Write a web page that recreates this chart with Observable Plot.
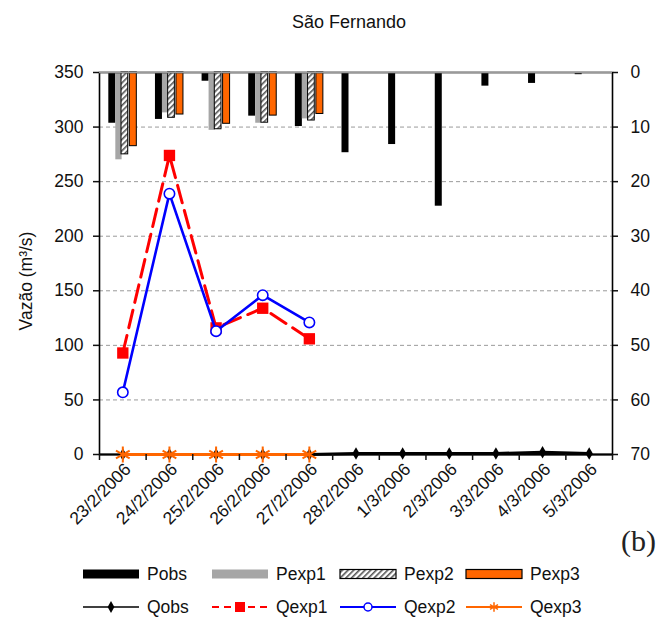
<!DOCTYPE html>
<html><head><meta charset="utf-8">
<script src="https://cdn.jsdelivr.net/npm/d3@7"></script>
<script src="https://cdn.jsdelivr.net/npm/@observablehq/plot@0.6"></script>
<style>
body{margin:0;background:#fff;font-family:"Liberation Sans",Arial,sans-serif;}
#wrap{position:relative;width:663px;height:621px;overflow:hidden;}
#title{position:absolute;top:12px;left:0;width:698px;text-align:center;font-size:18px;color:#111;}
#ylab{position:absolute;left:26px;top:281px;transform:translate(-50%,-50%) rotate(-90deg);font-size:17.5px;white-space:nowrap;color:#111;}
#tag{position:absolute;left:621px;top:524px;font-family:"Liberation Serif","DejaVu Serif",serif;font-size:30px;color:#222;}
#chart{position:absolute;left:0;top:0;}
#legend{position:absolute;left:0;top:555px;}
</style></head><body>
<div id="wrap">
  <div id="chart"></div>
  <div id="title">São Fernando</div>
  <div id="ylab">Vazão (m³/s)</div>
  <div id="tag">(b)</div>
  <div id="legend"></div>
</div>
<script>
// ---- data ----
const dates = ["23/2/2006","24/2/2006","25/2/2006","26/2/2006","27/2/2006","28/2/2006","1/3/2006","2/3/2006","3/3/2006","4/3/2006","5/3/2006"];
const Pobs  = [9.3, 8.6, 1.6, 8.0, 9.9, 14.7, 13.2, 24.5, 2.5, 2.0, 0.4];
const Pexp1 = [16.0, 7.4, 10.6, 9.3, 8.5];
const Pexp2 = [15.0, 8.3, 10.4, 9.2, 8.8];
const Pexp3 = [13.5, 7.7, 9.4, 7.9, 7.6];
const Qobs  = [0, 0, 0, 0, 0, 1, 1, 1, 1, 2, 1];
const Qexp1 = [93, 274, 116, 134, 106];
const Qexp2 = [57, 239, 113, 146, 121];
const Qexp3 = [0, 0, 0, 0, 0];
const qTicks = [0, 50, 100, 150, 200, 250, 300, 350];
const pTicks = [0, 10, 20, 30, 40, 50, 60, 70];
const pSeries = ["Pobs", "Pexp1", "Pexp2", "Pexp3"];
const qSeries = ["Qobs", "Qexp1", "Qexp2", "Qexp3"];

// ---- layout / style ----
const W = 663, H = 621;
const mL = 99, mR = 51, mT = 72, mB = 167;
const qMax = 350, pMax = 70;
const pToY = p => qMax - p * (qMax / pMax);     // right (inverted) axis mapped onto flow scale
const bw = (W - mL - mR) / dates.length;
const barPos = {Pobs: [-14, -7], Pexp1: [-7, -0.7], Pexp2: [-1.3, 5.4], Pexp3: [7, 14]};
const barStyle = {
  Pobs:  {fill: "#000"},
  Pexp1: {fill: "#a6a6a6"},
  Pexp2: {fill: "url(#hatch)", stroke: "#000", strokeWidth: 1},
  Pexp3: {fill: "#ff6600", stroke: "#000", strokeWidth: 1}
};
const pData = {Pobs, Pexp1, Pexp2, Pexp3};
const rows = s => pData[s].map((p, i) => ({date: dates[i], p}));
const qRows = arr => arr.map((q, i) => ({date: dates[i], q}));

const barMarks = pSeries.map(s => Plot.barY(rows(s), {
  x: "date", y1: () => qMax, y2: d => pToY(d.p),
  insetLeft: bw / 2 + barPos[s][0], insetRight: bw / 2 - barPos[s][1],
  ...barStyle[s]
}));

const fs = 17.5;
const plot = Plot.plot({
  width: W, height: H,
  marginLeft: mL, marginRight: mR, marginTop: mT, marginBottom: mB,
  style: {fontFamily: "'Liberation Sans', Arial, sans-serif", fontSize: fs + "px", color: "#111", background: "transparent"},
  x: {type: "band", domain: dates, paddingInner: 0, paddingOuter: 0, round: false, axis: null},
  y: {domain: [0, qMax], axis: null},
  marks: [
    Plot.ruleY(qTicks.slice(1, -1), {stroke: "#9a9a9a", strokeWidth: 1, strokeDasharray: "4,3"}),
    ...barMarks,
    Plot.ruleY([0], {stroke: "#000", strokeWidth: 2}),
    Plot.frame({stroke: "#000", strokeWidth: 1.6, fill: "none"}),
    Plot.ruleY([qMax], {stroke: "#9a9a9a", strokeWidth: 1.6}),
    // lines
    Plot.line(qRows(Qobs), {x: "date", y: "q", stroke: "#000", strokeWidth: 3}),
    Plot.dot(qRows(Qobs), {x: "date", y: "q", symbol: "diamond", r: 3.8, fill: "#000"}),
    Plot.line(qRows(Qexp1), {x: "date", y: "q", stroke: "#ff0000", strokeWidth: 3, strokeDasharray: "18,8"}),
    Plot.dot(qRows(Qexp1), {x: "date", y: "q", symbol: "square", r: 6.4, fill: "#ff0000"}),
    Plot.line(qRows(Qexp2), {x: "date", y: "q", stroke: "#0000ff", strokeWidth: 2.6}),
    Plot.dot(qRows(Qexp2), {x: "date", y: "q", symbol: "circle", r: 5.2, fill: "#fff", stroke: "#0000ff", strokeWidth: 1.6}),
    Plot.line(qRows(Qexp3), {x: "date", y: "q", stroke: "#ff6600", strokeWidth: 3}),
    Plot.dot(qRows(Qexp3), {x: "date", y: "q", symbol: "asterisk", r: 7.5, stroke: "#ff6600", strokeWidth: 2}),
    // axes
    Plot.axisY({anchor: "left", ticks: qTicks, tickSize: 6, tickPadding: 10, label: null, fontSize: fs, strokeWidth: 1.5}),
    Plot.axisY({anchor: "right", ticks: qTicks, tickSize: 5, tickPadding: 13, label: null, fontSize: fs, strokeWidth: 1.5,
      tickFormat: d => pTicks[qTicks.length - 1 - qTicks.indexOf(d)]}),
    Plot.axisX({ticks: dates, tickSize: 6, tickFormat: () => "", dx: -bw / 2, label: null, strokeWidth: 1.5}),
    Plot.axisX({ticks: dates.slice(-1), tickSize: 6, tickFormat: () => "", dx: bw / 2, label: null, strokeWidth: 1.5}),
    Plot.axisX({ticks: dates, tickSize: 0, tickPadding: 12, tickRotate: -45, dx: 5, label: null, fontSize: fs})
  ]
});

// hatch pattern
const ns = "http://www.w3.org/2000/svg";
function addHatch(svg) {
  const defs = document.createElementNS(ns, "defs");
  defs.innerHTML = '<pattern id="hatch" patternUnits="userSpaceOnUse" width="4" height="4" patternTransform="rotate(45)">' +
    '<rect width="4" height="4" fill="#fff"/><rect width="1.6" height="4" fill="#555"/></pattern>';
  svg.insertBefore(defs, svg.firstChild);
}
addHatch(plot);
document.getElementById("chart").appendChild(plot);

// legend
const lg = d3.select("#legend").append("svg").attr("width", W).attr("height", 66)
  .style("font-family", "'Liberation Sans', Arial, sans-serif").style("font-size", fs + "px");
const sx = [83, 212, 340, 466];
const row1 = 19, row2 = 52;
pSeries.forEach((s, i) => {
  const st = barStyle[s];
  lg.append("rect").attr("x", sx[i]).attr("y", row1 - 4.5).attr("width", 56).attr("height", 9)
    .attr("fill", st.fill)
    .attr("stroke", st.stroke || "none").attr("stroke-width", 1.2);
  lg.append("text").attr("x", sx[i] + 64).attr("y", row1).attr("dy", "0.35em").attr("fill", "#111").text(s);
});
const qStyle = [
  {stroke: "#000", w: 1.5, dash: null},
  {stroke: "#ff0000", w: 2, dash: "7,5"},
  {stroke: "#0000ff", w: 2, dash: null},
  {stroke: "#ff6600", w: 2, dash: null}
];
qSeries.forEach((s, i) => {
  const st = qStyle[i];
  const cx = sx[i] + 28;
  lg.append("line").attr("x1", sx[i]).attr("x2", sx[i] + 56).attr("y1", row2).attr("y2", row2)
    .attr("stroke", st.stroke).attr("stroke-width", st.w).attr("stroke-dasharray", st.dash);
  if (i === 0) lg.append("path").attr("d", d3.symbol(d3.symbolDiamond, 40)()).attr("transform", `translate(${cx},${row2})`).attr("fill", "#000");
  if (i === 1) lg.append("rect").attr("x", cx - 5).attr("y", row2 - 5).attr("width", 10).attr("height", 10).attr("fill", "#ff0000");
  if (i === 2) lg.append("circle").attr("cx", cx).attr("cy", row2).attr("r", 4).attr("fill", "#fff").attr("stroke", "#0000ff").attr("stroke-width", 1.5);
  if (i === 3) lg.append("path").attr("d", d3.symbol(d3.symbolAsterisk, 60)()).attr("transform", `translate(${cx},${row2})`).attr("stroke", "#ff6600").attr("stroke-width", 1.5);
  lg.append("text").attr("x", sx[i] + 64).attr("y", row2).attr("dy", "0.35em").attr("fill", "#111").text(s);
});
</script>
</body></html>
